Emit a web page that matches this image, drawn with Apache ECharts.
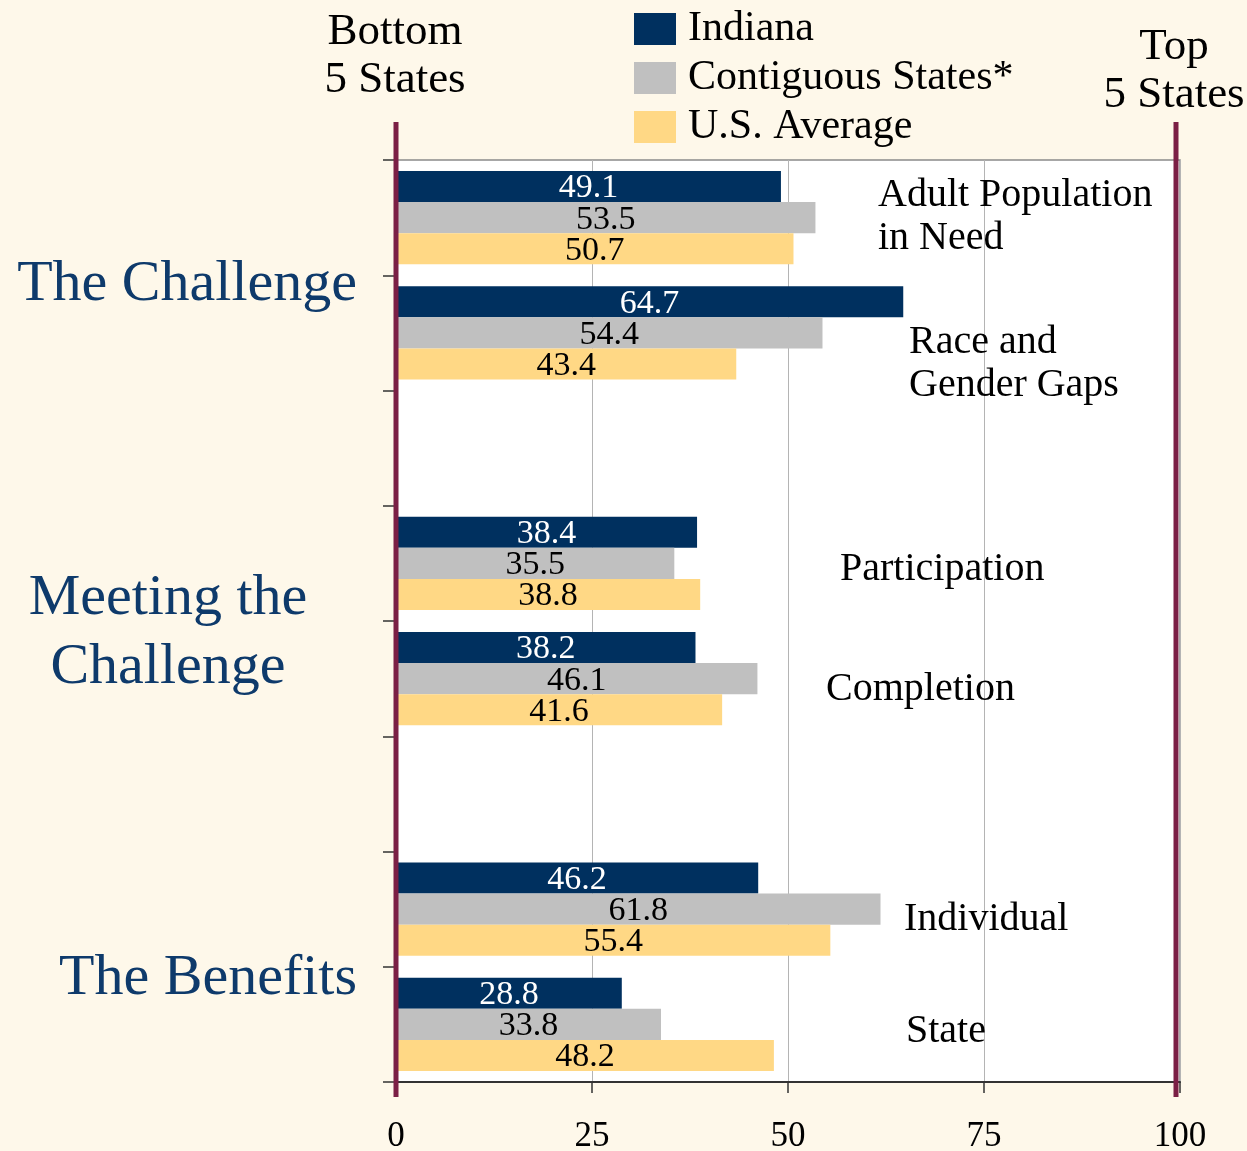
<!DOCTYPE html>
<html>
<head>
<meta charset="utf-8">
<script src="https://cdn.jsdelivr.net/npm/echarts@6/dist/echarts.min.js"></script>
<style>
html,body{margin:0;padding:0;background:#FEF8EA;}
#chart{width:1247px;height:1151px;}
</style>
</head>
<body>
<div id="chart"></div>
<script>
// ---- data ----
const categories = ['Adult Population\nin Need', 'Race and\nGender Gaps', ' ', 'Participation', 'Completion', '  ', 'Individual', 'State'];
const indiana = [49.1, 64.7, null, 38.4, 38.2, null, 46.2, 28.8];
const contiguous = [53.5, 54.4, null, 35.5, 46.1, null, 61.8, 33.8];
const usAverage = [50.7, 43.4, null, 38.8, 41.6, null, 55.4, 48.2];
const seriesNames = ['Indiana', 'Contiguous States*', 'U.S. Average'];
const xTicks = [0, 25, 50, 75, 100];
const groups = [
  {text: 'The Challenge', from: 0, to: 1},
  {text: 'Meeting the\nChallenge', from: 3, to: 4},
  {text: 'The Benefits', from: 6, to: 7}
];
const endLabels = ['Bottom\n5 States', 'Top\n5 States'];

// ---- layout (not data) ----
const catLabelLayout = [
  {x: 878, dy: -1}, {x: 909, dy: 31}, null, {x: 840, dy: 6},
  {x: 826, dy: 11}, null, {x: 904, dy: 10}, {x: 906, dy: 7}
];
const groupLayout = [
  {x: 357, align: 'right', dy: 10},
  {x: 168, align: 'center', dy: 12},
  {x: 357, align: 'right', dy: 12}
];

const FONT = '"Liberation Serif", "Times New Roman", serif';
const colors = ['#00305F', '#C0C0C0', '#FFD885'];
const chart = echarts.init(document.getElementById('chart'));

function mkSeries(name, data, idx) {
  return {
    name: name, type: 'bar', data: data,
    barGap: '0%', barCategoryGap: '19%',
    itemStyle: {color: colors[idx]},
    label: {
      show: true, position: 'inside', offset: [0, 2],
      fontFamily: FONT, fontSize: 34,
      color: idx === 0 ? '#FFFFFF' : '#000000',
      formatter: p => p.value.toFixed(1)
    },
    silent: true
  };
}

chart.setOption({
  animation: false,
  backgroundColor: '#FEF8EA',
  textStyle: {fontFamily: FONT},
  grid: {
    left: 396, right: 67, top: 160, bottom: 69,
    containLabel: false, outerBoundsMode: 'none',
    show: true, backgroundColor: '#FFFFFF', borderColor: '#8a8a8a', borderWidth: 1.5
  },
  legend: {
    orient: 'vertical', left: 629, top: 3,
    itemWidth: 42, itemHeight: 32, itemGap: 7,
    icon: 'rect',
    textStyle: {fontFamily: FONT, fontSize: 42, color: '#000', lineHeight: 42, padding: [0,0,0,7]},
    data: seriesNames
  },
  xAxis: {
    type: 'value', min: 0, max: 100, interval: 25,
    axisLine: {show: true, lineStyle: {color: '#333', width: 2}},
    axisTick: {show: true, length: 11, lineStyle: {color: '#333', width: 1.5}},
    axisLabel: {
      fontFamily: FONT, fontSize: 35, color: '#000', margin: 37,
      formatter: v => xTicks.indexOf(v) >= 0 ? String(v) : ''
    },
    splitLine: {show: true, lineStyle: {color: '#b4b4b4', width: 1}}
  },
  yAxis: {
    type: 'category', inverse: true, data: categories,
    axisLine: {show: false},
    axisTick: {show: true, inside: false, length: 13, alignWithLabel: false, interval: 0, lineStyle: {color: '#333', width: 1.5}},
    axisLabel: {show: false},
    splitLine: {show: false}
  },
  series: [
    mkSeries(seriesNames[0], indiana, 0),
    mkSeries(seriesNames[1], contiguous, 1),
    mkSeries(seriesNames[2], usAverage, 2)
  ]
});

// ---- decorations computed from axes ----
const x0 = chart.convertToPixel({xAxisIndex: 0}, 0);
const x100 = chart.convertToPixel({xAxisIndex: 0}, 100);
const graphics = [];
const yPix = i => chart.convertToPixel({yAxisIndex: 0}, i);
const band = yPix(1) - yPix(0);
const topY = yPix(0) - band / 2;
const botY = yPix(categories.length - 1) + band / 2;

[x0, x100 - 4].forEach(x => {
  graphics.push({
    type: 'line', z: 100,
    shape: {x1: x, y1: topY - 38, x2: x, y2: botY + 15},
    style: {stroke: '#7B1F45', lineWidth: 5}
  });
});

graphics.push({
  type: 'text', z: 100, x: x0 - 1, y: 56,
  style: {text: endLabels[0], font: '45px ' + FONT, fill: '#000', align: 'center', verticalAlign: 'middle', lineHeight: 48}
});
graphics.push({
  type: 'text', z: 100, x: x100 - 6, y: 71,
  style: {text: endLabels[1], font: '45px ' + FONT, fill: '#000', align: 'center', verticalAlign: 'middle', lineHeight: 48}
});

categories.forEach((c, i) => {
  const L = catLabelLayout[i];
  if (!L) return;
  graphics.push({
    type: 'text', z: 100, x: L.x, y: yPix(i) + L.dy,
    style: {text: c, font: '40px ' + FONT, fill: '#000', align: 'left', verticalAlign: 'middle', lineHeight: 43}
  });
});

groups.forEach((g, i) => {
  const L = groupLayout[i];
  const y = (yPix(g.from) + yPix(g.to)) / 2 + L.dy;
  graphics.push({
    type: 'text', z: 100, x: L.x, y: y,
    style: {text: g.text, font: '58px ' + FONT, fill: '#0E3A6B', align: L.align, verticalAlign: 'middle', lineHeight: 69}
  });
});

chart.setOption({graphic: graphics});
</script>
</body>
</html>
